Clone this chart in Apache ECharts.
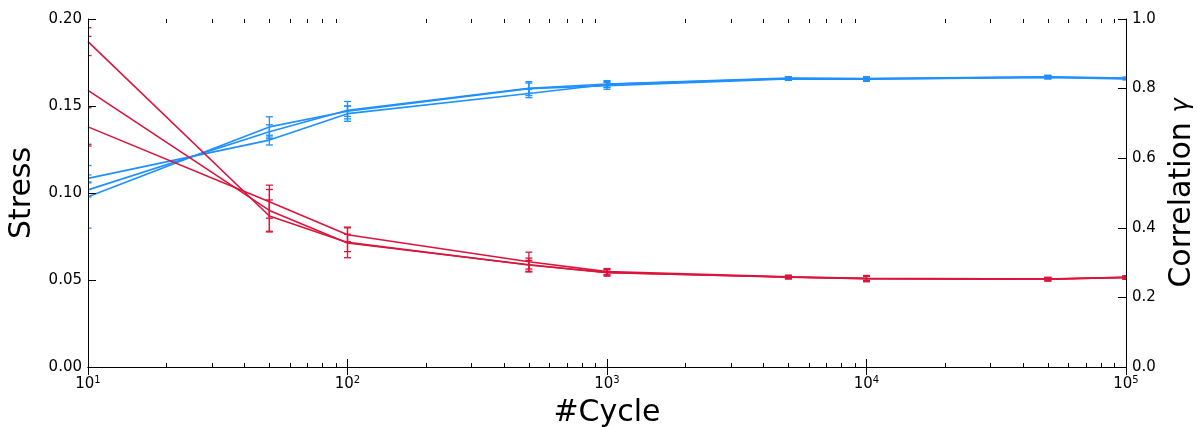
<!DOCTYPE html>
<html>
<head>
<meta charset="utf-8">
<script src="https://cdn.jsdelivr.net/npm/echarts@6/dist/echarts.min.js"></script>
<style>
html,body{margin:0;padding:0;background:#fff;}
#chart{width:1197px;height:427px;}
</style>
</head>
<body>
<div id="chart"></div>
<script>
// ---- data ----
const cycles = [10, 50, 100, 500, 1000, 5000, 10000, 50000, 100000];

const stress1 = [0.187, 0.0868, 0.0716, 0.0586, 0.0542, 0.0517, 0.0508, 0.0505, 0.0515];
const stress2 = [0.159, 0.0900, 0.0713, 0.0588, 0.0543, 0.0516, 0.0507, 0.0504, 0.0514];
const stress3 = [0.138, 0.0950, 0.0760, 0.0605, 0.0548, 0.0518, 0.0510, 0.0506, 0.0516];
const stressErr1 = [0.008, 0.0092, 0.0088, 0.004, 0.002, 0.001, 0.0018, 0.001, 0.001];
const stressErr2 = [0.031, 0.012, 0.005, 0.0025, 0.0015, 0.001, 0.0015, 0.001, 0.001];
const stressErr3 = [0.011, 0.0095, 0.004, 0.0055, 0.0018, 0.0008, 0.0012, 0.0008, 0.0008];

const corrA = [0.542, 0.652, 0.728, 0.786, 0.812, 0.829, 0.828, 0.833, 0.829];
const corrB = [0.509, 0.676, 0.738, 0.801, 0.813, 0.830, 0.829, 0.834, 0.830];
const corrC = [0.489, 0.690, 0.735, 0.800, 0.808, 0.828, 0.827, 0.832, 0.828];
const corrErrA = [0.010, 0.014, 0.022, 0.012, 0.008, 0.005, 0.006, 0.005, 0.003];
const corrErrB = [0.020, 0.020, 0.025, 0.015, 0.010, 0.004, 0.005, 0.004, 0.003];
const corrErrC = [0.090, 0.029, 0.015, 0.020, 0.010, 0.004, 0.006, 0.004, 0.003];

const minorTickValues = [20,30,40,50,60,70,80,90,200,300,400,500,600,700,800,900,
  2000,3000,4000,5000,6000,7000,8000,9000,20000,30000,40000,50000,60000,70000,80000,90000];

const xLabel = '#Cycle';
const yLeftLabel = 'Stress';
const yRightLabel = 'Correlation';
const gammaSymbol = 'γ';

// ---- styling ----
const RED = '#DC143C';
const BLUE = '#1E90FF';
const FONT = 'DejaVu Sans';

function pairs(ys) { return cycles.map((c, i) => [c, ys[i]]); }
function errPairs(ys, es) { return cycles.map((c, i) => [c, ys[i] - es[i], ys[i] + es[i]]); }

function lineSeries(ys, color, yIdx) {
  return {
    type: 'line', data: pairs(ys), yAxisIndex: yIdx, xAxisIndex: 0,
    symbol: 'none', lineStyle: { color: color, width: 1.6 }, z: 3, silent: true
  };
}
function errSeries(ys, es, color, yIdx) {
  return {
    type: 'custom', yAxisIndex: yIdx, xAxisIndex: 0, data: errPairs(ys, es),
    encode: { x: 0, y: [1, 2] }, clip: true, z: 2, silent: true,
    renderItem: function (params, api) {
      const lo = api.coord([api.value(0), api.value(1)]);
      const hi = api.coord([api.value(0), api.value(2)]);
      const cw = 3.5;
      const st = { stroke: color, lineWidth: 1.3, fill: null };
      return {
        type: 'group', children: [
          { type: 'line', shape: { x1: lo[0], y1: lo[1], x2: hi[0], y2: hi[1] }, style: st },
          { type: 'line', shape: { x1: lo[0] - cw, y1: lo[1], x2: lo[0] + cw, y2: lo[1] }, style: st },
          { type: 'line', shape: { x1: hi[0] - cw, y1: hi[1], x2: hi[0] + cw, y2: hi[1] }, style: st }
        ]
      };
    }
  };
}

const chart = echarts.init(document.getElementById('chart'), null, { renderer: 'canvas' });

const option = {
  animation: false,
  backgroundColor: '#ffffff',
  textStyle: { fontFamily: FONT },
  grid: { left: 88, right: 71, top: 19, bottom: 60, containLabel: false, outerBoundsMode: 'none' },
  xAxis: [
    {
      type: 'log', logBase: 10, min: 10, max: 100000, position: 'bottom', z: 10,
      name: xLabel, nameLocation: 'middle', nameGap: 31,
      nameTextStyle: { fontFamily: FONT, fontSize: 30, color: '#000' },
      axisLine: { show: true, lineStyle: { color: '#000', width: 1 } },
      axisTick: { show: true, inside: true, length: 8, lineStyle: { color: '#000', width: 1 } },
      splitLine: { show: false },
      axisLabel: {
        margin: 8, color: '#000',
        formatter: function (v) {
          return '{b|10}{s|' + Math.round(Math.log10(v)) + '}';
        },
        rich: {
          b: { fontFamily: FONT, fontSize: 15, color: '#000' },
          s: { fontFamily: FONT, fontSize: 10, color: '#000', verticalAlign: 'bottom', padding: [0, 0, 9, 0] }
        }
      }
    },
    {
      type: 'log', logBase: 10, min: 10, max: 100000, position: 'top', z: 10,
      axisLine: { show: true, lineStyle: { color: '#000', width: 1 } },
      axisTick: { show: true, inside: true, length: 8, lineStyle: { color: '#000', width: 1 } },
      axisLabel: { show: false },
      splitLine: { show: false }
    }
  ],
  yAxis: [
    {
      type: 'value', min: 0, max: 0.2, interval: 0.05, position: 'left', z: 10,
      name: yLeftLabel, nameLocation: 'middle', nameGap: 43, nameRotate: 90,
      nameTextStyle: { fontFamily: FONT, fontSize: 30, color: '#000' },
      axisLine: { show: true, lineStyle: { color: '#000', width: 1 } },
      axisTick: { show: true, inside: true, length: 8, lineStyle: { color: '#000', width: 1 } },
      splitLine: { show: false },
      axisLabel: {
        margin: 6, color: '#000', fontFamily: FONT, fontSize: 15,
        formatter: function (v) { return v.toFixed(2); }
      }
    },
    {
      type: 'value', min: 0, max: 1, interval: 0.2, position: 'right', z: 10,
      name: '{a|' + yRightLabel + ' }{g|' + gammaSymbol + '}', nameLocation: 'middle', nameGap: 40, nameRotate: 90,
      nameTextStyle: {
        fontFamily: FONT, fontSize: 30, color: '#000',
        rich: {
          a: { fontFamily: FONT, fontSize: 30, color: '#000' },
          g: { fontFamily: FONT, fontSize: 24, fontStyle: 'italic', color: '#000' }
        }
      },
      axisLine: { show: true, lineStyle: { color: '#000', width: 1 } },
      axisTick: { show: true, inside: true, length: 8, lineStyle: { color: '#000', width: 1 } },
      splitLine: { show: false },
      axisLabel: {
        margin: 6, color: '#000', fontFamily: FONT, fontSize: 15,
        formatter: function (v) { return v.toFixed(1); }
      }
    }
  ],
  series: [
    {
      type: 'custom', xAxisIndex: 0, yAxisIndex: 0, silent: true, z: 11, clip: false,
      data: minorTickValues.map(v => [v, 0]),
      encode: { x: 0, y: 1 },
      renderItem: function (params, api) {
        const p = api.coord([api.value(0), 0]);
        const cs = params.coordSys;
        const x = Math.round(p[0]) + 0.5;
        const st = { stroke: '#000', lineWidth: 1 };
        return {
          type: 'group', children: [
            { type: 'line', shape: { x1: x, y1: cs.y + cs.height, x2: x, y2: cs.y + cs.height - 4 }, style: st },
            { type: 'line', shape: { x1: x, y1: cs.y, x2: x, y2: cs.y + 4 }, style: st }
          ]
        };
      }
    },
    errSeries(corrA, corrErrA, BLUE, 1),
    errSeries(corrB, corrErrB, BLUE, 1),
    errSeries(corrC, corrErrC, BLUE, 1),
    lineSeries(corrA, BLUE, 1),
    lineSeries(corrB, BLUE, 1),
    lineSeries(corrC, BLUE, 1),
    errSeries(stress1, stressErr1, RED, 0),
    errSeries(stress2, stressErr2, RED, 0),
    errSeries(stress3, stressErr3, RED, 0),
    lineSeries(stress1, RED, 0),
    lineSeries(stress2, RED, 0),
    lineSeries(stress3, RED, 0)
  ]
};
chart.setOption(option);
</script>
</body>
</html>
